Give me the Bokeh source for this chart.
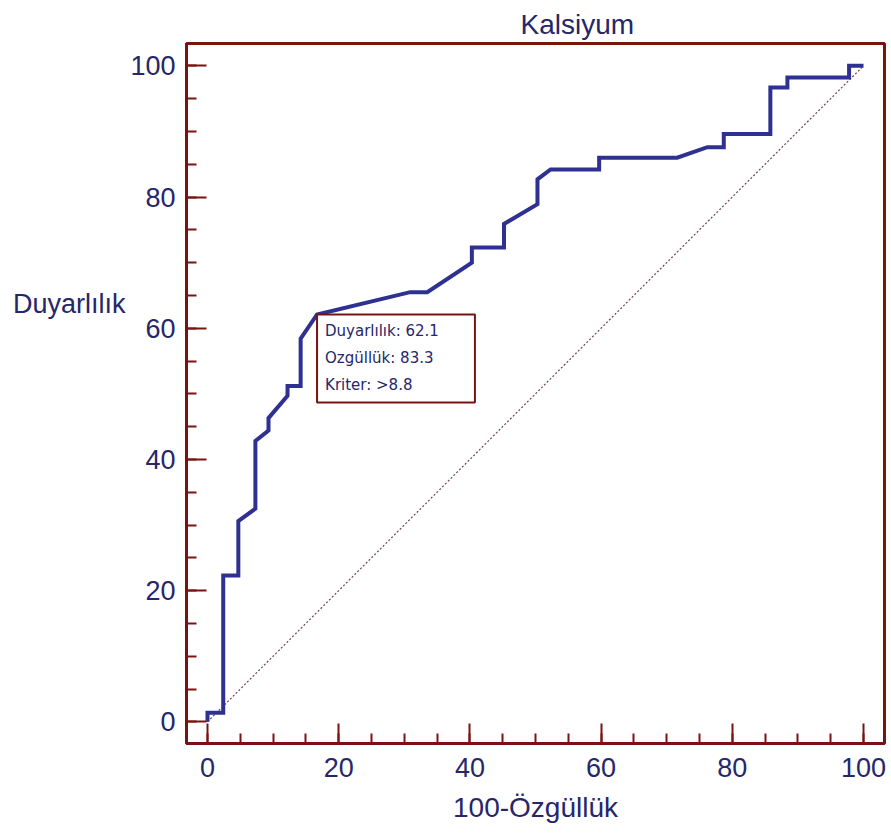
from bokeh.plotting import figure
from bokeh.models import Range1d, SingleIntervalTicker, FixedTicker, Label, LinearAxis
from bokeh.embed import file_html
from bokeh.resources import INLINE

# ROC curve for calcium: 100-specificity (x) against sensitivity (y)
fpr = [0, 0, 2.4, 2.4, 4.7, 4.7, 7.3, 7.3, 9.3, 9.3, 12.2, 12.2, 14.2, 14.2,
       16.7, 30.9, 33.5, 40.3, 40.3, 45.2, 45.2, 50.3, 50.3, 52.3, 59.7, 59.7,
       71.6, 76.2, 78.7, 78.7, 85.8, 85.8, 88.4, 88.4, 97.8, 97.8, 100]
tpr = [0, 1.4, 1.4, 22.3, 22.3, 30.6, 32.5, 42.8, 44.4, 46.3, 49.7, 51.2, 51.2, 58.4,
       62.1, 65.5, 65.5, 70.0, 72.3, 72.3, 75.9, 78.9, 82.7, 84.2, 84.2, 86.0,
       86.0, 87.6, 87.6, 89.6, 89.6, 96.7, 96.7, 98.2, 98.2, 100.0, 100]

# chance diagonal
diag_x = [0, 100]
diag_y = [0, 100]

# optimal cut-off point
cut_sens = 62.1
cut_spec = 83.3
cut_crit = ">8.8"

MAROON = "#7a1212"
NAVY = "#26266a"
CURVE = "#2e3192"
FONT = "Liberation Sans"

p = figure(width=891, height=834, output_backend="svg", toolbar_location=None,
           x_range=Range1d(-3.2, 103.2), y_range=Range1d(-3.3, 103.4),
           min_border_left=186, min_border_right=7,
           min_border_top=43, min_border_bottom=91)
p.grid.visible = False
p.background_fill_color = "white"
p.border_fill_color = "white"
p.outline_line_color = MAROON
p.outline_line_width = 3

# title, sitting right of centre above the frame
p.title.text = "Kalsiyum"
p.title.align = "left"
p.title.offset = 334
p.title.text_font = FONT
p.title.text_font_size = "28px"
p.title.text_font_style = "normal"
p.title.text_color = NAVY
p.title.standoff = 8

for ax in (p.xaxis[0], p.yaxis[0]):
    ax.ticker = SingleIntervalTicker(interval=20, num_minor_ticks=4)
    ax.axis_line_color = MAROON
    ax.axis_line_width = 3
    ax.major_tick_in = 20
    ax.major_tick_out = 0
    ax.minor_tick_in = 10
    ax.minor_tick_out = 0
    ax.major_tick_line_color = MAROON
    ax.minor_tick_line_color = MAROON
    ax.major_tick_line_width = 2
    ax.minor_tick_line_width = 2
    ax.major_label_text_font = FONT
    ax.major_label_text_font_size = "27px"
    ax.major_label_text_color = NAVY

p.xaxis.major_label_standoff = 14
p.yaxis.major_label_standoff = 11
p.xaxis.axis_label = "100-Özgüllük"
p.xaxis.axis_label_text_font = FONT
p.xaxis.axis_label_text_font_size = "28px"
p.xaxis.axis_label_text_font_style = "normal"
p.xaxis.axis_label_text_color = NAVY
p.xaxis.axis_label_standoff = 12

# y caption written horizontally beside the axis, level with the 60 tick
ycap = LinearAxis(ticker=FixedTicker(ticks=[63.7]),
                  major_label_overrides={63.7: "Duyarlılık"},
                  axis_line_color=None, major_tick_line_color=None,
                  minor_tick_line_color=None, major_tick_out=0, major_tick_in=0,
                  major_label_standoff=2,
                  major_label_text_font=FONT, major_label_text_font_size="27px",
                  major_label_text_color=NAVY)
p.add_layout(ycap, "left")

p.line(diag_x, diag_y, line_color="#6e4646", line_width=1.2, line_dash="2 2")
p.line(fpr, tpr, line_color=CURVE, line_width=4, line_join="miter")

# cut-off annotation box anchored at the optimal point
info = f"Duyarlılık: {cut_sens}\nOzgüllük: {cut_spec}\nKriter: {cut_crit}"
p.add_layout(Label(x=100 - cut_spec, y=cut_sens, text=info,
                   text_align="left", text_baseline="top",
                   text_font="DejaVu Sans", text_font_size="15px",
                   text_color=NAVY, text_line_height=1.5,
                   border_line_color=MAROON, border_line_width=2,
                   background_fill_color="white",
                   padding=dict(left=8, right=36, top=8, bottom=8)))

open("out.html", "w").write(file_html(p, INLINE))
